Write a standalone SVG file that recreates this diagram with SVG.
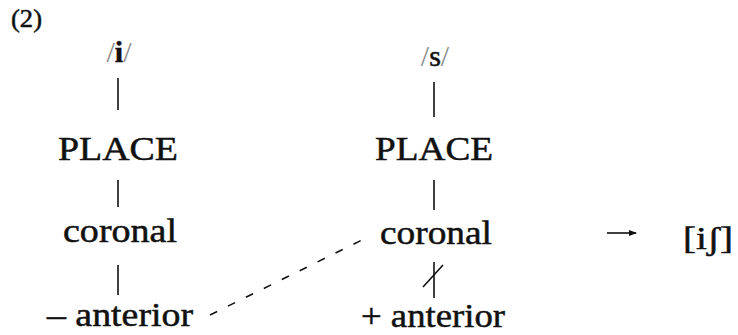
<svg xmlns="http://www.w3.org/2000/svg" width="738" height="335" viewBox="0 0 738 335">
<style>
.t{fill:#111;stroke:#111;stroke-width:0.5}
.n{font-size:34px}
.seg{stroke:#111;stroke-width:1.6;fill:none}
.slash{fill:#888;stroke:none}
</style>
<defs>
<marker id="ah" markerWidth="8" markerHeight="6" refX="7" refY="3" orient="auto" markerUnits="userSpaceOnUse">
<path d="M0,0 L8,3 L0,6 Z" fill="#111"/>
</marker>
</defs>
<rect width="738" height="335" fill="#fff"/>
<g font-family="Liberation Serif, serif">
<text x="11" y="27" class="t" font-size="26" stroke-width="0" textLength="31" lengthAdjust="spacingAndGlyphs">(2)</text>
<g id="node-i">
<text x="119" y="62" class="t" text-anchor="middle" font-size="30"><tspan class="slash">/</tspan><tspan font-weight="bold">i</tspan><tspan class="slash">/</tspan></text>
</g>
<g id="node-place1"><text x="118" y="160" class="t n" text-anchor="middle" textLength="120" lengthAdjust="spacingAndGlyphs">PLACE</text></g>
<g id="node-coronal1"><text x="120" y="242" class="t n" text-anchor="middle" textLength="114" lengthAdjust="spacingAndGlyphs">coronal</text></g>
<g id="node-anterior1"><text x="47" y="326" class="t n" textLength="146" lengthAdjust="spacingAndGlyphs">– anterior</text></g>
<g id="node-s">
<text x="435" y="66" class="t" text-anchor="middle" font-size="30"><tspan class="slash">/</tspan>s<tspan class="slash">/</tspan></text>
</g>
<g id="node-place2"><text x="434" y="160" class="t n" text-anchor="middle" textLength="118" lengthAdjust="spacingAndGlyphs">PLACE</text></g>
<g id="node-coronal2"><text x="436" y="244" class="t n" text-anchor="middle" textLength="112" lengthAdjust="spacingAndGlyphs">coronal</text></g>
<g id="node-anterior2"><text x="361" y="327" class="t n" textLength="144" lengthAdjust="spacingAndGlyphs">+ anterior</text></g>
<g id="node-result"><text x="683" y="249" class="t" font-size="31" textLength="50" lengthAdjust="spacingAndGlyphs">[iʃ]</text></g>
</g>
<g id="connectors">
<line class="seg" x1="118" y1="78" x2="118" y2="110"/>
<line class="seg" x1="118" y1="180" x2="118" y2="207"/>
<line class="seg" x1="118" y1="265" x2="118" y2="295"/>
<line class="seg" x1="434" y1="82" x2="434" y2="117"/>
<line class="seg" x1="434" y1="180" x2="434" y2="210"/>
<line class="seg" x1="434" y1="262" x2="434" y2="298"/>
<line class="seg" x1="423" y1="287" x2="443" y2="265"/>
<line class="seg" x1="210" y1="315" x2="368" y2="237" stroke-dasharray="8 12"/>
<line class="seg" x1="607" y1="233" x2="636" y2="233" marker-end="url(#ah)"/>
</g>
</svg>
